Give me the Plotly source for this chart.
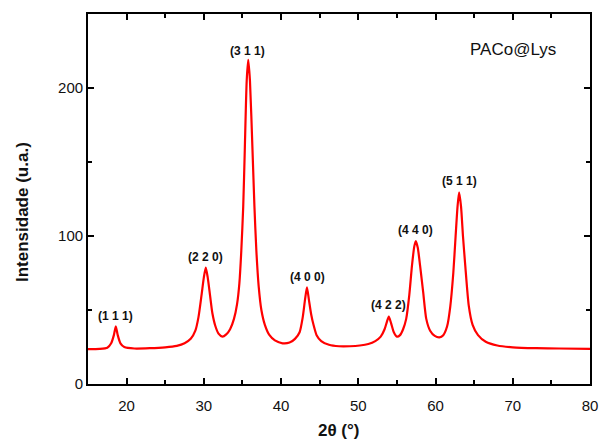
import plotly.graph_objects as go

# Curve points (2theta in degrees, intensity in a.u.)
two_theta = [15.0, 16.5, 17.5, 18.0, 18.35, 18.6, 18.85, 19.2, 19.7, 21.0, 23.0, 25.0, 26.5, 27.5,
             28.3, 28.9, 29.3, 29.7, 30.0, 30.25, 30.5, 30.8, 31.1, 31.5, 31.9, 32.4, 32.9, 33.4,
             33.9, 34.3, 34.6, 34.85, 35.1, 35.3, 35.55, 35.75, 35.97, 36.3, 36.55, 36.8, 37.1,
             37.45, 37.9, 38.5, 39.2, 40.2, 41.1, 41.8, 42.4, 42.8, 43.1, 43.35, 43.6, 43.9, 44.2,
             44.6, 45.2, 46.2, 47.5, 48.9, 50.2, 51.3, 52.2, 52.9, 53.4, 53.7, 53.95, 54.25, 54.6,
             55.0, 55.4, 55.8, 56.2, 56.6, 56.95, 57.25, 57.45, 57.7, 58.0, 58.4, 58.8, 59.3, 59.9,
             60.5, 61.0, 61.5, 61.9, 62.3, 62.6, 62.85, 63.05, 63.3, 63.55, 63.85, 64.3, 64.8, 65.5,
             66.5, 68.0, 70.0, 73.0, 76.0, 80.0]
intensity = [23.5, 23.7, 24.5, 27.5, 33.0, 39.0, 33.0, 27.5, 25.0, 24.0, 24.2, 24.8, 25.8, 27.5,
             30.5, 36.0, 45.0, 60.0, 72.0, 78.6, 72.0, 60.0, 48.0, 39.0, 34.0, 32.0, 33.5, 37.0,
             44.0, 54.0, 68.0, 90.0, 120.0, 158.0, 205.0, 219.0, 205.0, 158.0, 120.0, 90.0, 66.0,
             50.0, 40.0, 33.0, 29.5, 27.5, 28.0, 30.5, 35.0, 45.0, 57.0, 65.3, 57.0, 47.0, 40.0,
             33.0, 29.0, 26.5, 25.5, 25.5, 26.0, 27.0, 29.0, 32.0, 37.0, 42.0, 45.5, 41.0, 35.0,
             32.0, 33.0, 37.0, 44.0, 60.0, 80.0, 93.0, 96.5, 92.0, 80.0, 62.0, 44.0, 36.0, 32.5,
             31.5, 33.0, 39.0, 52.0, 75.0, 100.0, 120.0, 129.5, 120.0, 100.0, 80.0, 53.0, 40.0, 33.0,
             28.5, 26.0, 24.8, 24.2, 24.0, 23.8]

# Miller index labels and their positions
hkl_labels = ["(1 1 1)", "(2 2 0)", "(3 1 1)", "(4 0 0)", "(4 2 2)", "(4 4 0)", "(5 1 1)"]
hkl_x = [18.6, 30.2, 35.7, 43.4, 53.85, 57.4, 63.1]
hkl_y = [46, 86, 225, 72, 53.5, 104, 137]

x_ticks = [20, 30, 40, 50, 60, 70, 80]
y_ticks = [0, 100, 200]
sample_name = "PACo@Lys"

FONT = "Arial, Liberation Sans, sans-serif"

fig = go.Figure()
fig.add_trace(go.Scatter(x=two_theta, y=intensity, mode="lines",
                         line=dict(color="#ff0000", width=2.2, shape="spline", smoothing=0.6),
                         hoverinfo="x+y", showlegend=False))

for lab, xx, yy in zip(hkl_labels, hkl_x, hkl_y):
    fig.add_annotation(x=xx, y=yy, text="<b>" + lab + "</b>", showarrow=False,
                       font=dict(family=FONT, size=12, color="#111"), xanchor="center", yanchor="middle")

fig.add_annotation(x=70.0, y=226, text=sample_name, showarrow=False,
                   font=dict(family=FONT, size=17, color="#111"), xanchor="center", yanchor="middle")

# axis titles as paper annotations
fig.add_annotation(xref="paper", yref="paper", x=(339 - 88) / 502, y=-(430 - 384) / 370,
                   text="<b>2θ (°)</b>", showarrow=False, font=dict(family=FONT, size=17, color="#111"),
                   xanchor="center", yanchor="middle")
fig.add_annotation(xref="paper", yref="paper", x=-(88 - 22) / 502, y=(384 - 212) / 370,
                   text="<b>Intensidade (u.a.)</b>", showarrow=False, textangle=-90,
                   font=dict(family=FONT, size=17, color="#111"), xanchor="center", yanchor="middle")

axis_common = dict(showline=True, linecolor="#000", linewidth=1.7, mirror="allticks",
                   ticks="inside", ticklen=6, tickwidth=1.5, tickcolor="#000",
                   showgrid=False, zeroline=False, automargin=False,
                   tickfont=dict(family=FONT, size=15, color="#111"))

fig.update_xaxes(range=[15, 80], tickvals=x_ticks, ticklabelstandoff=7,
                 minor=dict(ticks="inside", ticklen=4, tickwidth=1.5, tickcolor="#000", dtick=5, tick0=0, showgrid=False),
                 **axis_common)
fig.update_yaxes(range=[0, 250], tickvals=y_ticks,
                 minor=dict(ticks="inside", ticklen=4, tickwidth=1.5, tickcolor="#000", dtick=50, tick0=0, showgrid=False),
                 **axis_common)

fig.update_layout(width=599, height=439, margin=dict(l=88, r=9, t=14, b=55, autoexpand=False),
                  plot_bgcolor="white", paper_bgcolor="white")

fig.write_html("out.html", config={"displayModeBar": False},
               post_script="document.body.style.margin='0';document.body.style.overflow='hidden';")
